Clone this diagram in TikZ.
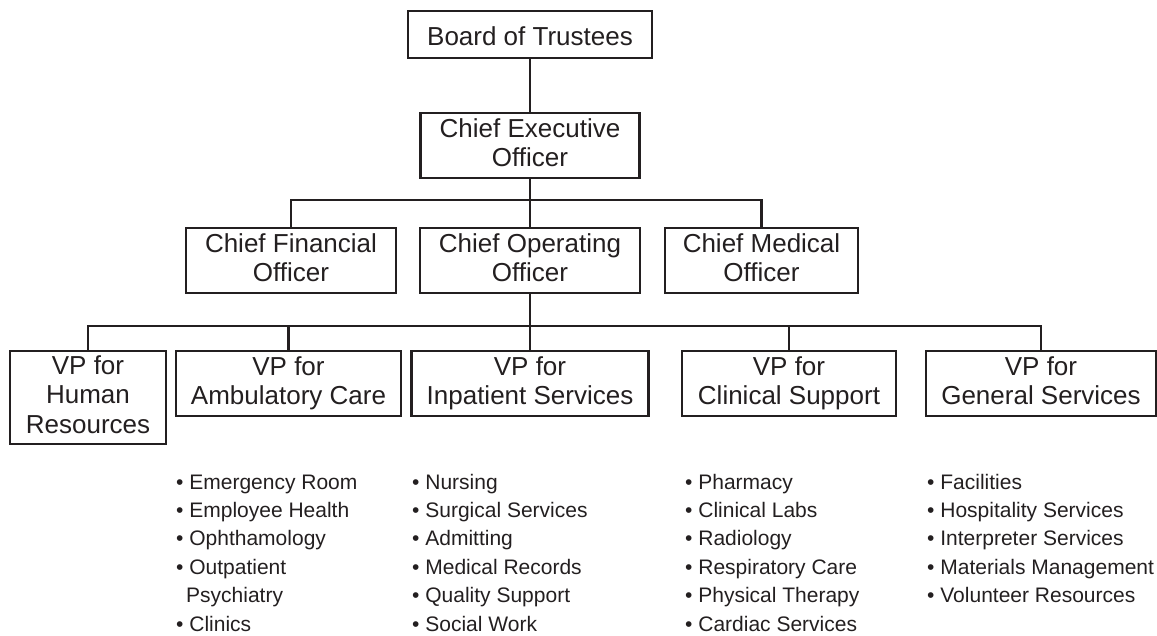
\documentclass[tikz,border=0pt]{standalone}
\usepackage{fontspec}
\setmainfont{Liberation Sans}
\definecolor{ink}{HTML}{231F20}
\newcommand\bxtop{\rule{0pt}{27.5pt}}
\newcommand\bxbot{\rule[-6pt]{0pt}{6pt}}
\tikzset{
  box/.style={draw=ink, line width=2.9pt, inner sep=0pt, align=center, text=ink,
    font=\fontsize{26}{29.5}\selectfont,
    execute at begin node=\bxtop, execute at end node=\bxbot},
  conn/.style={draw=ink, line width=2.7pt},
  list/.style={anchor=base west, inner sep=0pt, align=left, text=ink,
    font=\fontsize{21}{28.4}\selectfont}
}
\begin{document}
\begin{tikzpicture}[x=1pt,y=-1pt]
\useasboundingbox (0,0) rectangle (1157,635);
% top
\node[box, minimum width=244, minimum height=47] (bot) at (530,34.5) {Board of Trustees};
\node[box, minimum width=219, minimum height=65] (ceo) at (530,145.5) {Chief Executive\\Officer};
% chiefs
\node[box, minimum width=210, minimum height=65] (cfo) at (291,260.5) {Chief Financial\\Officer};
\node[box, minimum width=220, minimum height=65] (coo) at (530,260.5) {Chief Operating\\Officer};
\node[box, minimum width=193, minimum height=65] (cmo) at (761.5,260.5) {Chief Medical\\Officer};
% VPs
\node[box, minimum width=156, minimum height=93] (hr) at (88,397.5) {VP for\\Human\\Resources};
\node[box, minimum width=225, minimum height=65] (amb) at (288.5,383.5) {VP for\\Ambulatory Care};
\node[box, minimum width=237, minimum height=65] (inp) at (530,383.5) {VP for\\Inpatient Services};
\node[box, minimum width=214, minimum height=65] (clin) at (789,383.5) {VP for\\Clinical Support};
\node[box, minimum width=230, minimum height=65] (gen) at (1041,383.5) {VP for\\General Services};
% branch levels
\coordinate (b1) at (0,200);
\coordinate (b2) at (0,326);
% connectors
\draw[conn] (bot.south) -- (ceo.north);
\draw[conn] (ceo.south) -- (coo.north);
\draw[conn] (cfo.north) -- (cfo.north |- b1) -- (cmo.north |- b1) -- (cmo.north);
\draw[conn] (coo.south) -- (inp.north);
\draw[conn] (hr.north) -- (hr.north |- b2) -- (gen.north |- b2) -- (gen.north);
\draw[conn] (amb.north) -- (amb.north |- b2);
\draw[conn] (clin.north) -- (clin.north |- b2);
% lists (base anchor = baseline of the last line)
\node[list] (ambl) at (176,631) {\textbullet\ Emergency Room\\\textbullet\ Employee Health\\\textbullet\ Ophthamology\\\textbullet\ Outpatient\\\hspace*{10pt}Psychiatry\\\textbullet\ Clinics};
\node[list] (inpl) at (412,631) {\textbullet\ Nursing\\\textbullet\ Surgical Services\\\textbullet\ Admitting\\\textbullet\ Medical Records\\\textbullet\ Quality Support\\\textbullet\ Social Work};
\node[list] (clinl) at (685,631) {\textbullet\ Pharmacy\\\textbullet\ Clinical Labs\\\textbullet\ Radiology\\\textbullet\ Respiratory Care\\\textbullet\ Physical Therapy\\\textbullet\ Cardiac Services};
\node[list] (genl) at (927,602.6) {\textbullet\ Facilities\\\textbullet\ Hospitality Services\\\textbullet\ Interpreter Services\\\textbullet\ Materials Management\\\textbullet\ Volunteer Resources};
\end{tikzpicture}
\end{document}
